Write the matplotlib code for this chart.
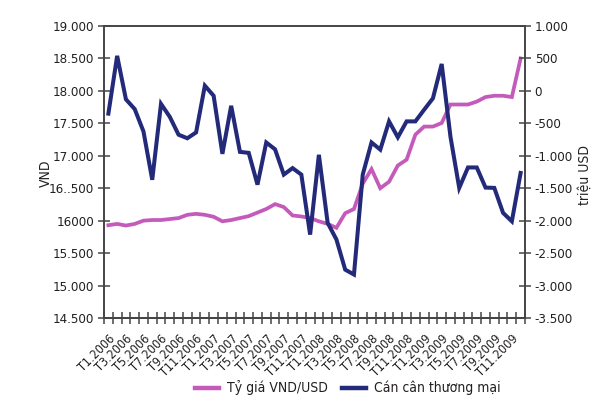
import matplotlib
matplotlib.use("Agg")
import matplotlib.pyplot as plt
from matplotlib import font_manager
from matplotlib.lines import Line2D
import numpy as np

# font hep: DejaVu Sans Condensed neu co
ung_vien = [f for f in font_manager.fontManager.ttflist
            if any(k in f.fname for k in ("Condensed", "Narrow"))
            and f.style == "normal" and f.weight in (400, "normal", "regular", "book")]
ung_vien.sort(key=lambda f: (0 if "DejaVu" in f.name else 1, f.name))
if ung_vien:
    FONT = ung_vien[0].name
    STRETCH = ung_vien[0].stretch
else:
    FONT = "DejaVu Sans"
    STRETCH = "normal"
plt.rcParams["font.family"] = [FONT, "DejaVu Sans"]
plt.rcParams["font.stretch"] = STRETCH

# DU LIEU (T1.2006 - T12.2009, theo thang)
ty_gia = [15930, 15950, 15925, 15950, 16000, 16010, 16010, 16025, 16040, 16090,
          16105, 16090, 16060, 15990, 16010, 16040, 16070, 16125, 16180, 16255,
          16210, 16080, 16065, 16040, 15990, 15950, 15890, 16115, 16180, 16570,
          16795, 16500, 16600, 16850, 16940, 17325, 17450, 17450, 17505, 17790,
          17790, 17790, 17835, 17905, 17925, 17925, 17905, 18500]

can_can = [-350, 540, -130, -280, -625, -1370, -200, -400, -675, -730,
           -640, 80, -75, -970, -230, -940, -955, -1445, -795, -900,
           -1290, -1190, -1290, -2215, -985, -2035, -2290, -2755, -2830, -1290,
           -795, -905, -470, -715, -470, -470, -290, -115, 415, -705,
           -1495, -1180, -1180, -1490, -1495, -1880, -2010, -1265]

nhan_x = ["T1.2006", "T3.2006", "T5.2006", "T7.2006", "T9.2006", "T11.2006",
          "T1.2007", "T3.2007", "T5.2007", "T7.2007", "T9.2007", "T11.2007",
          "T1.2008", "T3.2008", "T5.2008", "T7.2008", "T9.2008", "T11.2008",
          "T1.2009", "T3.2009", "T5.2009", "T7.2009", "T9.2009", "T11.2009"]

ticks_trai = [19000, 18500, 18000, 17500, 17000, 16500, 16000, 15500, 15000, 14500]
nhan_trai = ["19.000", "18.500", "18.000", "17.500", "17.000", "16..500", "16000",
             "15.500", "15.000", "14.500"]
ticks_phai = [1000, 500, 0, -500, -1000, -1500, -2000, -2500, -3000, -3500]
nhan_phai = ["1.000", "500", "0", "-500", "-1.000", "-1.500", "-2.000", "-2.500",
             "-3.000", "-3.500"]

HONG = "#c45bbb"
XANH = "#232a7a"
CHU = "#231f20"
TRUC = "#454545"
CO = 9.5

x = np.arange(len(ty_gia))

fig = plt.figure(figsize=(6.05, 3.98), dpi=100)
ax1 = fig.add_axes([104/605, 1-318/398, 421/605, 292/398])
ax2 = ax1.twinx()

ax1.plot(x, ty_gia, color=HONG, lw=2.7, solid_joinstyle="miter")
ax2.plot(x, can_can, color=XANH, lw=2.9, solid_joinstyle="miter")

ax1.set_xlim(-0.5, len(x) - 0.5)
ax1.set_ylim(14500, 19000)
ax2.set_ylim(-3500, 1000)

ax1.set_yticks(ticks_trai)
ax1.set_yticklabels(nhan_trai)
ax2.set_yticks(ticks_phai)
ax2.set_yticklabels(nhan_phai)

# truc x: vach chia giua cac thang, nhan cach 2 thang
ax1.set_xticks(x[::2])
ax1.set_xticklabels(nhan_x, rotation=45, ha="right", rotation_mode="anchor")
ax1.set_xticks(np.arange(-0.5, len(x)), minor=True)
ax1.tick_params(axis="x", which="major", length=0, pad=10, labelsize=CO - 0.5,
                labelcolor=CHU)
ax1.tick_params(axis="x", which="minor", direction="inout", length=8, width=1.1,
                color=TRUC)

ax1.tick_params(axis="y", direction="inout", length=8, width=1.1, color=TRUC,
                labelsize=CO, labelcolor=CHU, pad=3)
ax2.tick_params(axis="y", direction="inout", length=8, width=1.1, color=TRUC,
                labelsize=CO, labelcolor=CHU, pad=3)

for ax in (ax1, ax2):
    for s in ax.spines.values():
        s.set_color(TRUC)
        s.set_linewidth(1.2)
    ax.spines["bottom"].set_linewidth(1.4)

fig.text(46/605, 1-173/398, "VND", rotation=90, ha="center", va="center",
         fontsize=CO + 0.5, color=CHU)
fig.text(585/605, 1-175/398, "triệu USD", rotation=90, ha="center", va="center",
         fontsize=CO + 0.5, color=CHU)

handles = [Line2D([], [], color=HONG, lw=3.2), Line2D([], [], color=XANH, lw=3.2)]
fig.legend(handles, ["Tỷ giá VND/USD", "Cán cân thương mại"], loc="center",
           bbox_to_anchor=(348/605, 1-388/398), ncol=2, frameon=False,
           fontsize=CO + 0.5, handlelength=1.7, columnspacing=1.0,
           handletextpad=0.6, labelcolor=CHU)

fig.savefig("out.png", dpi=100)
